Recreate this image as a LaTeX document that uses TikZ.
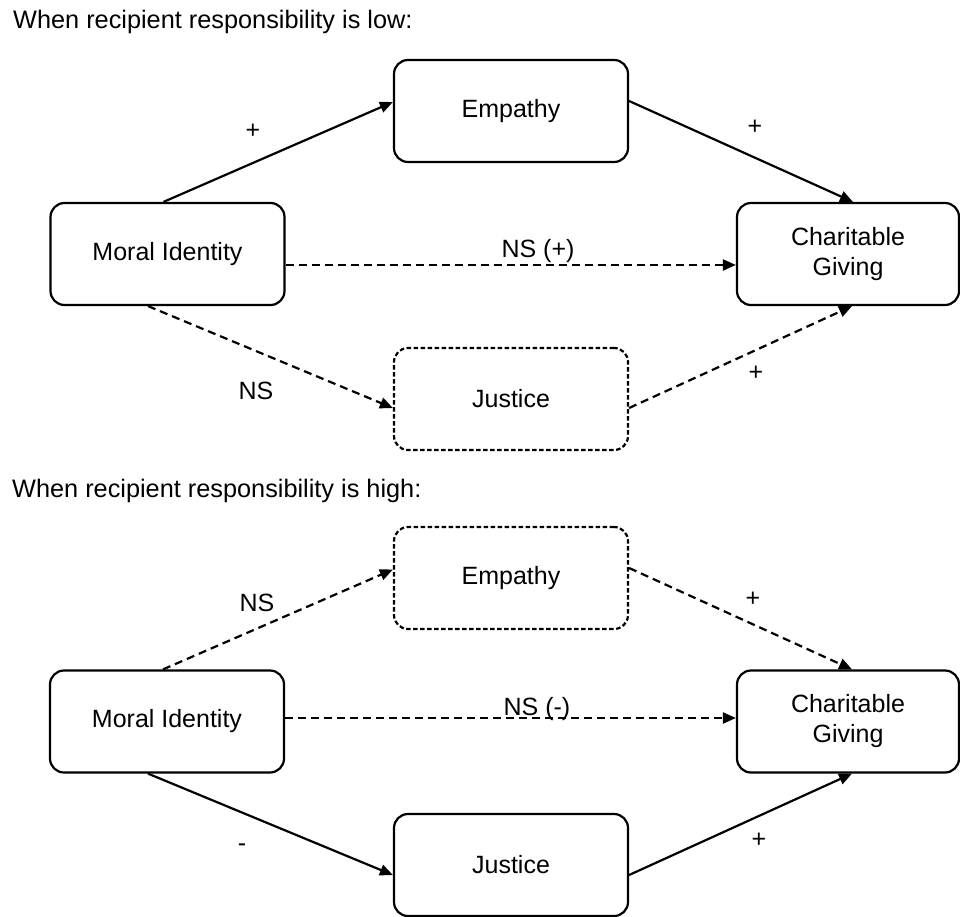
\documentclass[tikz,border=0pt]{standalone}
\usepackage{fontspec}
\setmainfont{Liberation Sans}
\usetikzlibrary{arrows.meta}
\begin{document}
\begin{tikzpicture}[x=1pt,y=-1pt,
  box/.style={draw, line width=2.2pt, rounded corners=14pt, inner sep=0pt,
    align=center, minimum width=234pt, minimum height=102pt,
    font=\fontsize{25}{30}\selectfont},
  dbox/.style={box, dash pattern=on 4.5pt off 2.5pt},
  link/.style={line width=2.2pt, -{Triangle[length=13pt,width=11pt]}},
  dlink/.style={link, dash pattern=on 8pt off 5pt},
  lbl/.style={inner sep=0pt, font=\fontsize{25}{30}\selectfont},
  title/.style={anchor=base west, inner sep=0pt, font=\fontsize{25.3}{30}\selectfont}]

\useasboundingbox (0,0) rectangle (960,917);

% ---- low responsibility ----
\node[title] (titleA) at (13,29) {When recipient responsibility is low:};

\node[box]  (empA) at (511,111) {Empathy};
\node[box]  (miA)  at (167.5,254) {Moral Identity};
\node[box, minimum width=222pt] (cgA) at (848,254) {Charitable\\Giving};
\node[dbox] (jA)   at (511,399) {Justice};

\draw[link]  ([xshift=-4pt]miA.north) -- ([yshift=9pt]empA.west);
\draw[link]  ([yshift=10pt]empA.east) -- ([xshift=5pt]cgA.north);
\draw[dlink] ([yshift=-11pt]miA.east) -- ([yshift=-11pt]cgA.west);
\draw[dlink] ([xshift=-19.5pt]miA.south) -- ([yshift=-9pt]jA.west);
\draw[dlink] ([yshift=-9pt]jA.east) -- ([xshift=4pt]cgA.south);

\node[lbl] (pA1) at (253,131) {+};
\node[lbl] (pA2) at (755,127) {+};
\node[lbl, anchor=base] (nsA) at (538,258) {NS (+)};
\node[lbl] (nsA2) at (256,391) {NS};
\node[lbl] (pA3) at (756,373) {+};

% ---- high responsibility ----
\node[title] (titleB) at (12,497) {When recipient responsibility is high:};

\node[dbox] (empB) at (511,578) {Empathy};
\node[box]  (miB)  at (167,721.5) {Moral Identity};
\node[box, minimum width=222pt] (cgB) at (848,721.5) {Charitable\\Giving};
\node[box]  (jB)   at (511,865) {Justice};

\draw[dlink] ([xshift=-4pt]miB.north) -- ([yshift=8.5pt]empB.west);
\draw[dlink] ([yshift=10pt]empB.east) -- ([xshift=4pt]cgB.north);
\draw[dlink] ([yshift=3.5pt]miB.east) -- ([yshift=3.5pt]cgB.west);
\draw[link]  ([xshift=-19pt]miB.south) -- ([yshift=-10pt]jB.west);
\draw[link]  ([yshift=-10pt]jB.east) -- ([xshift=4pt]cgB.south);

\node[lbl] (nsB1) at (257,603) {NS};
\node[lbl] (pB1) at (753,599) {+};
\node[lbl, anchor=base] (nsB) at (537,715) {NS (-)};
\node[lbl] (mB) at (242,848) {-};
\node[lbl] (pB2) at (759,840) {+};
\end{tikzpicture}
\end{document}
